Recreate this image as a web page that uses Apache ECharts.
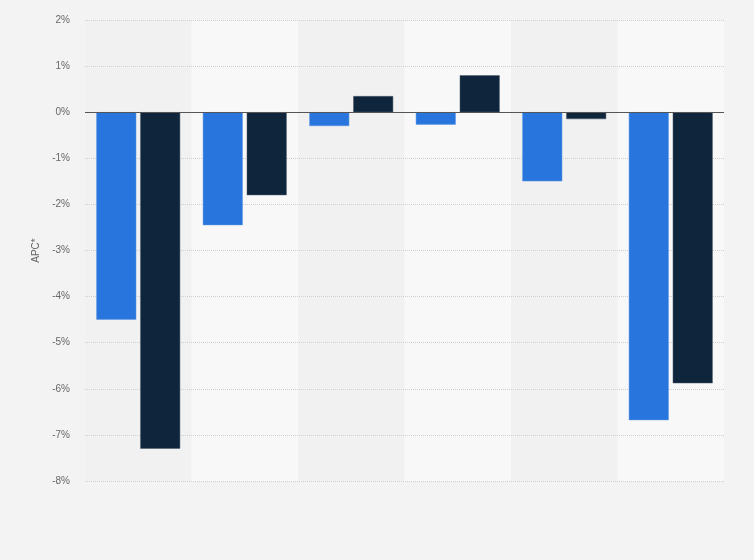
<!DOCTYPE html>
<html lang="en">
<head>
  <meta charset="UTF-8">
  <title>APC chart</title>
  <script src="https://cdn.jsdelivr.net/npm/echarts@6/dist/echarts.min.js"></script>
  <style>
    html,body{margin:0;padding:0;background:#f3f3f3;}
  </style>
</head>
<body>
  <div id="main" style="width:754px;height:560px;"></div>
  <script>
    // data
    var categories = ["1", "2", "3", "4", "5", "6"];
    var seriesA = [-4.5, -2.45, -0.3, -0.27, -1.5, -6.68];
    var seriesB = [-7.3, -1.8, 0.35, 0.8, -0.15, -5.88];
    var yTicks = [2, 1, 0, -1, -2, -3, -4, -5, -6, -7, -8];

    var chart = echarts.init(document.getElementById("main"));
    var option = {
      backgroundColor: "#f3f3f3",
      animation: false,
      grid: { left: 85, right: 30, top: 20, bottom: 79 },
      xAxis: {
        type: "category",
        z: 0,
        data: categories,
        axisLine: { show: false },
        axisTick: { show: false },
        axisLabel: { show: false },
        splitArea: { show: true, areaStyle: { color: ["#f1f1f1", "#f8f8f8"] } }
      },
      yAxis: {
        type: "value",
        z: 1,
        min: yTicks[yTicks.length - 1],
        max: yTicks[0],
        interval: 1,
        name: "APC*",
        nameLocation: "middle",
        nameGap: 44,
        nameTextStyle: { color: "#666", fontSize: 10, fontFamily: "Liberation Sans" },
        axisLine: { show: false },
        axisTick: { show: false },
        axisLabel: { formatter: "{value}%", color: "#666", fontSize: 10, fontFamily: "Liberation Sans", margin: 15 },
        splitLine: { lineStyle: { color: "#cfcfcf", type: [1, 1] } }
      },
      series: [
        {
          name: "Series 1",
          type: "bar",
          z: 3,
          data: seriesA,
          barWidth: "37.5%",
          barGap: "10%",
          itemStyle: { color: "#2876dd", borderColor: "#5c95e2", borderWidth: 0.5 },
          markLine: {
            silent: true,
            symbol: "none",
            label: { show: false },
            lineStyle: { color: "#555", type: "solid", width: 1.2 },
            data: [{ yAxis: 0 }]
          }
        },
        {
          name: "Series 2",
          type: "bar",
          z: 3,
          data: seriesB,
          barWidth: "37.5%",
          itemStyle: { color: "#0f253b", borderColor: "#4a5a6a", borderWidth: 0.5 }
        }
      ]
    };
    chart.setOption(option);
  </script>
</body>
</html>
